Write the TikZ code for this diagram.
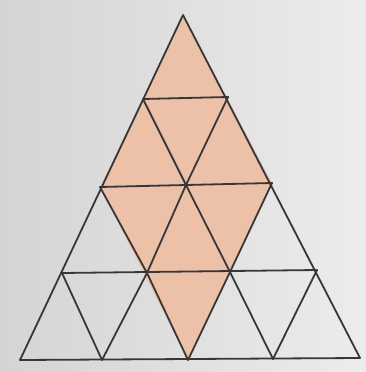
\documentclass[tikz,border=0pt]{standalone}
\usetikzlibrary{calc}
\definecolor{paperL}{RGB}{212,212,212}
\definecolor{paperR}{RGB}{236,236,236}
\definecolor{rhombfill}{RGB}{237,192,168}
\definecolor{ink}{RGB}{55,55,58}
\tikzset{gridline/.style={draw=ink,line width=1.8pt,line cap=round,line join=round}}
\begin{document}
\begin{tikzpicture}[x=1pt,y=-1pt]
\useasboundingbox (0,0) rectangle (366,372);
\shade[left color=paperL,right color=paperR] (0,0) rectangle (366,372);
\coordinate (A) at (183,15);
\coordinate (B1) at (143,99); \coordinate (B2) at (228,97);
\coordinate (C1) at (100,187); \coordinate (C2) at (186,185); \coordinate (C3) at (272,183);
\coordinate (D1) at (62,273); \coordinate (D2) at (147,273); \coordinate (D3) at (230,272); \coordinate (D4) at (317,270);
\coordinate (E1) at (20,360); \coordinate (E2) at (102,360); \coordinate (E3) at (188,360); \coordinate (E4) at (273,359); \coordinate (E5) at (360,358);
\fill[fill=rhombfill] (A) -- (C1) -- (E3) -- (C3) -- cycle;
\path[gridline] (A) -- (E1) -- (E5) -- cycle;
\path[gridline] (B1) -- (B2);
\path[gridline] (C1) -- (C3);
\path[gridline] (D1) -- (D4);
\path[gridline] (B2) -- (C2) -- (D2) -- (E2);
\path[gridline] (C3) -- (D3) -- (E3);
\path[gridline] (D4) -- (E4);
\path[gridline] (B1) -- (C2) -- (D3) -- (E4);
\path[gridline] (C1) -- (D2) -- (E3);
\path[gridline] (D1) -- (E2);
\end{tikzpicture}
\end{document}
